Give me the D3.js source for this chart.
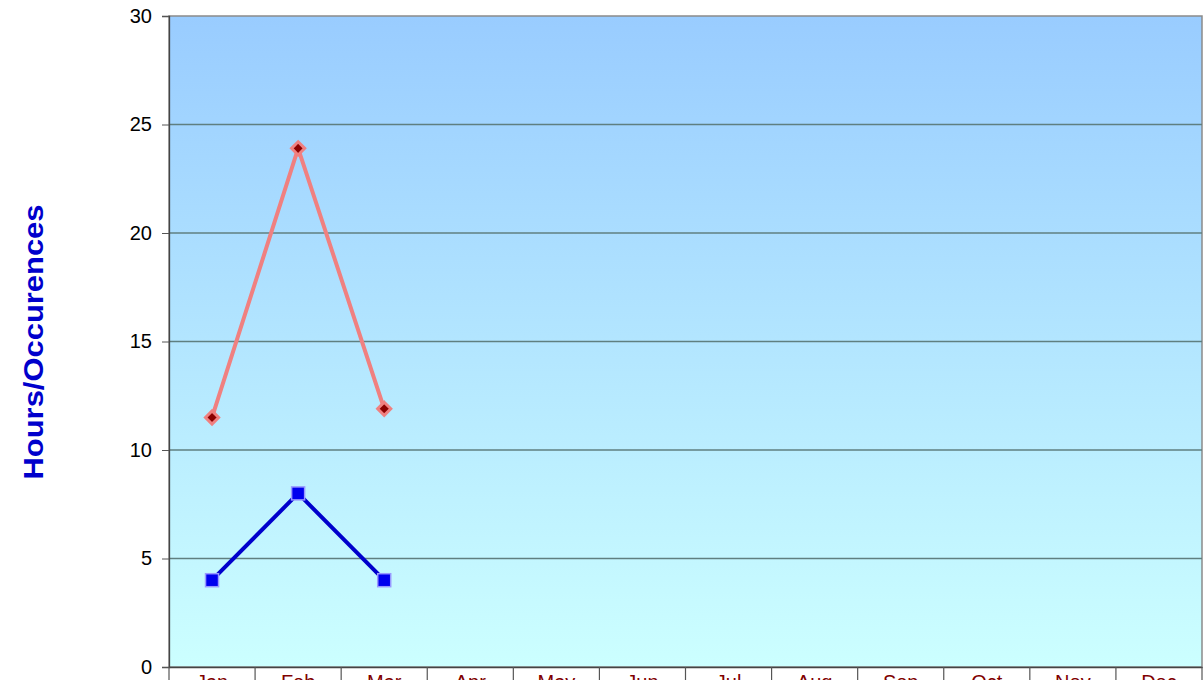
<!DOCTYPE html>
<html><head><meta charset="utf-8">
<script src="https://cdn.jsdelivr.net/npm/d3@7"></script>
<style>html,body{margin:0;padding:0;background:#fff;overflow:hidden}</style>
</head><body>
<svg id="c" width="1203" height="680"></svg>
<script>
const months = ["Jan","Feb","Mar","Apr","May","Jun","Jul","Aug","Sep","Oct","Nov","Dec"];
const hoursSeries = [11.5, 23.9, 11.9];
const occurrenceSeries = [4, 8, 4];
const yTicks = [0,5,10,15,20,25,30];

const svg = d3.select("#c");
const L = 169, R = 1202, T = 16, B = 667;
const x = d3.scaleBand().domain(months).range([L, R]);
const y = d3.scaleLinear().domain([0,30]).range([B, T]);

const defs = svg.append("defs");
const g = defs.append("linearGradient").attr("id","bg").attr("x1",0).attr("y1",0).attr("x2",0).attr("y2",1);
g.append("stop").attr("offset","0%").attr("stop-color","#99ccff");
g.append("stop").attr("offset","100%").attr("stop-color","#ccffff");

svg.append("rect").attr("x",L).attr("y",T).attr("width",R-L).attr("height",B-T).attr("fill","url(#bg)")
  .attr("stroke","#8a8a8a").attr("stroke-width",1.5);

// gridlines
svg.append("g").selectAll("line").data(yTicks.filter(d=>d>0 && d<30)).join("line")
  .attr("x1",L).attr("x2",R).attr("y1",d=>y(d)).attr("y2",d=>y(d))
  .attr("stroke","#5f7f80").attr("stroke-width",1.3);

// y axis
const ya = svg.append("g").attr("transform",`translate(${L},0)`)
  .call(d3.axisLeft(y).tickValues(yTicks).tickSize(7).tickPadding(10));
ya.select(".domain").attr("stroke","#444").attr("stroke-width",1.3);
ya.selectAll(".tick line").attr("stroke","#555");
ya.selectAll("text").attr("font-family","Arial, 'Liberation Sans', sans-serif").attr("font-size",20).attr("fill","#000");

// x axis
const xa = svg.append("g").attr("transform",`translate(0,${B})`)
  .call(d3.axisBottom(x).tickSize(0).tickPadding(8));
xa.select(".domain").attr("stroke","#444").attr("stroke-width",1.5);
xa.selectAll("text").attr("font-family","Arial, 'Liberation Sans', sans-serif").attr("font-size",20).attr("fill","#800000");
// category separators
svg.append("g").selectAll("line").data(months.concat(["_end"])).join("line")
  .attr("x1",(d,i)=> i<12 ? x(d) : R).attr("x2",(d,i)=> i<12 ? x(d) : R)
  .attr("y1",B).attr("y2",B+14).attr("stroke","#555").attr("stroke-width",1.2);

// lines
const line = d3.line().x((d,i)=>x(months[i])+x.bandwidth()/2).y(d=>y(d));
svg.append("path").datum(hoursSeries).attr("d",line).attr("fill","none")
  .attr("stroke","#f08080").attr("stroke-width",4);
svg.append("path").datum(occurrenceSeries).attr("d",line).attr("fill","none")
  .attr("stroke","#0000cc").attr("stroke-width",4);

// markers
svg.append("g").selectAll("path").data(hoursSeries).join("path")
  .attr("transform",(d,i)=>`translate(${x(months[i])+x.bandwidth()/2},${y(d)})`)
  .attr("d",d3.symbol(d3.symbolDiamond2,110)())
  .attr("fill","#8b0000").attr("stroke","#f08080").attr("stroke-width",3);
svg.append("g").selectAll("rect").data(occurrenceSeries).join("rect")
  .attr("x",(d,i)=>x(months[i])+x.bandwidth()/2-6.5).attr("y",d=>y(d)-6.5)
  .attr("width",13).attr("height",13)
  .attr("fill","#0000ee").attr("stroke","#9999ff").attr("stroke-width",1.5);

// y title
svg.append("text").attr("transform",`translate(43,342) rotate(-90)`)
  .attr("text-anchor","middle").attr("font-family","Arial, 'Liberation Sans', sans-serif")
  .attr("font-weight","bold").attr("font-size",27).attr("fill","#0000cc")
  .attr("textLength",275).attr("lengthAdjust","spacingAndGlyphs").text("Hours/Occurences");
</script>
</body></html>
